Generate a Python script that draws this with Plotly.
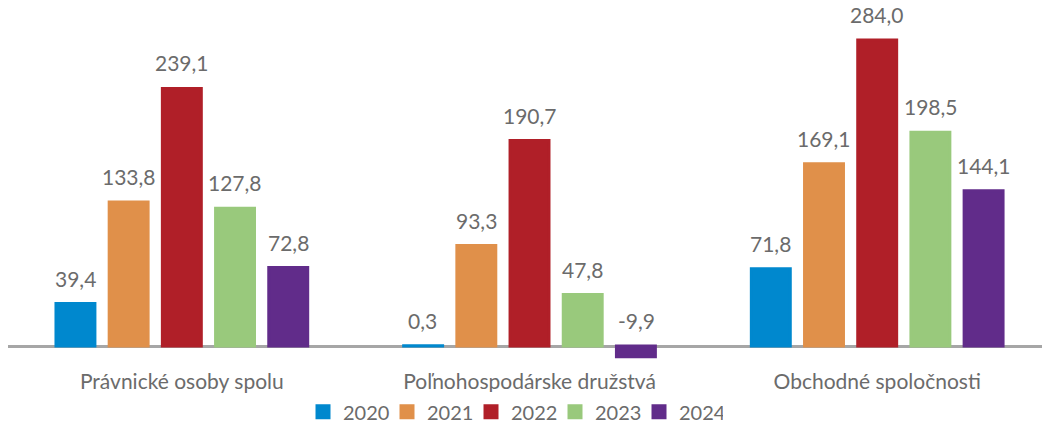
import plotly.graph_objects as go

categories = ["Právnické osoby spolu", "Poľnohospodárske družstvá", "Obchodné spoločnosti"]
years = ["2020", "2021", "2022", "2023", "2024"]
values = {
    "2020": [39.4, 0.3, 71.8],
    "2021": [133.8, 93.3, 169.1],
    "2022": [239.1, 190.7, 284.0],
    "2023": [127.8, 47.8, 198.5],
    "2024": [72.8, -9.9, 144.1],
}
colors = ["#0088CE", "#E0904A", "#B01F28", "#99C97C", "#612C8A"]

text_color = "#6B6B6B"
font_family = "Lato, 'Open Sans', sans-serif"

fig = go.Figure()
annotations = []
slot_px = 53.3
for i, (yr, col) in enumerate(zip(years, colors)):
    vals = values[yr]
    fig.add_trace(go.Bar(
        name=yr, x=categories, y=vals, marker_color=col,
        marker_line_width=3, marker_line_color=col,
    ))
    for c, v in zip(categories, vals):
        annotations.append(dict(
            x=c, y=max(v, 0), xref="x", yref="y",
            text=f"{v:.1f}".replace(".", ","),
            showarrow=False, yanchor="bottom", xanchor="center",
            xshift=(i - 2) * slot_px, yshift=11,
            font=dict(size=21, color=text_color, family=font_family),
        ))

fig.update_layout(
    width=1042, height=423,
    margin=dict(l=8, r=0, t=5, b=63, autoexpand=False),
    paper_bgcolor="white", plot_bgcolor="white",
    barmode="group", bargap=0.235, bargroupgap=0.268,
    font=dict(family=font_family, color=text_color, size=20),
    showlegend=True,
    legend=dict(
        orientation="h", x=0.4884, xanchor="center", y=-0.146, yanchor="middle",
        font=dict(size=20, color=text_color), itemwidth=30,
        entrywidth=39, entrywidthmode="pixels",
        traceorder="normal",
    ),
    annotations=annotations,
)
fig.update_xaxes(
    range=[-0.5, 2.474], automargin=False,
    showgrid=False, showline=False, ticks="", ticklabelstandoff=7,
    tickfont=dict(size=21, color=text_color, family=font_family),
)
fig.update_yaxes(
    range=[-13, 316.6], automargin=False, showgrid=False, showticklabels=False,
    zeroline=True, zerolinecolor="#A6A6A6", zerolinewidth=2.5,
)

fig.write_html(
    "out.html",
    config={"displayModeBar": False},
    post_script="document.body.style.margin='0';",
)
